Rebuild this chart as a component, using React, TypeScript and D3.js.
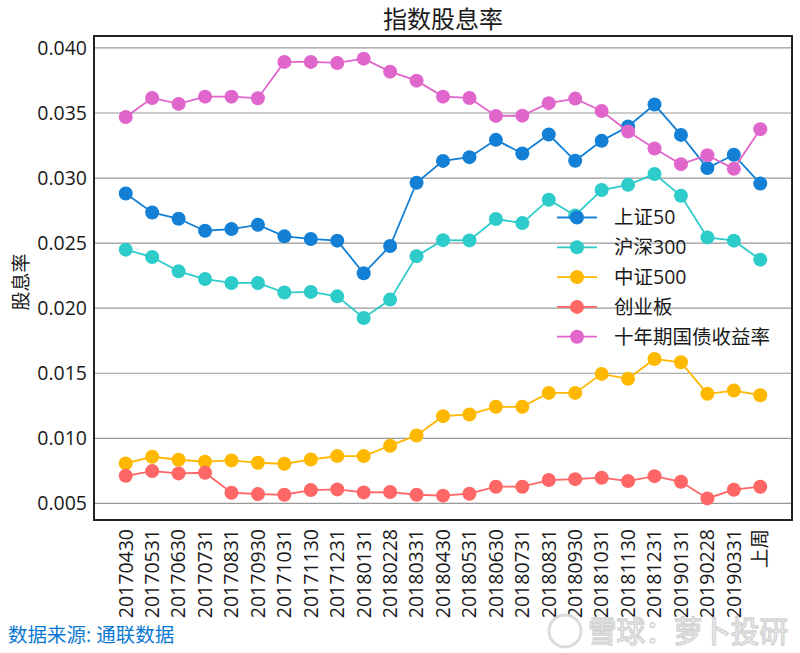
import React from "react";
import * as d3 from "d3";

const categories = [
  "20170430","20170531","20170630","20170731","20170831","20170930","20171031","20171130","20171231",
  "20180131","20180228","20180331","20180430","20180531","20180630","20180731","20180831","20180930",
  "20181031","20181130","20181231","20190131","20190228","20190331","上周",
];

const sz50 = [0.02882,0.02736,0.02687,0.02595,0.02608,0.02641,0.02552,0.02532,0.02519,0.02268,0.02478,0.02964,0.03132,0.03161,0.03294,0.03189,0.03335,0.03133,0.03286,0.03396,0.03565,0.03332,0.03077,0.03179,0.02958];
const hs300 = [0.0245,0.02393,0.02283,0.02224,0.02194,0.02194,0.0212,0.02125,0.02091,0.01925,0.02066,0.024,0.02523,0.02521,0.02685,0.02654,0.02834,0.02713,0.02908,0.02948,0.03031,0.02864,0.02544,0.02519,0.02373];
const zz500 = [0.00807,0.00858,0.00835,0.0082,0.0083,0.00812,0.00804,0.00837,0.00863,0.00863,0.00943,0.01022,0.0117,0.01183,0.01242,0.01242,0.01349,0.01349,0.01495,0.01457,0.0161,0.01584,0.01342,0.01367,0.01331];
const cyb = [0.00712,0.00748,0.0073,0.00735,0.00582,0.00571,0.00566,0.00602,0.00607,0.00584,0.00587,0.00566,0.00559,0.00574,0.00628,0.00628,0.00679,0.00686,0.00697,0.00671,0.00709,0.00666,0.00538,0.00605,0.00628];
const bond10y = [0.0347,0.03616,0.0357,0.03626,0.03626,0.03614,0.03893,0.03893,0.03885,0.03918,0.03818,0.03749,0.03626,0.03616,0.03478,0.0348,0.03576,0.03611,0.03516,0.03358,0.03227,0.03107,0.03176,0.03071,0.03376];

const seriesNames = ["上证50", "沪深300", "中证500", "创业板", "十年期国债收益率"];
const seriesValues = [sz50, hs300, zz500, cyb, bond10y];
const seriesColors = ["#1380d6", "#2ecbcb", "#ffb800", "#ff6666", "#e066cc"];
const yTicks = [0.005, 0.01, 0.015, 0.02, 0.025, 0.03, 0.035, 0.04];

const W = 800, H = 653;
const M = { left: 94, right: 792, top: 36, bottom: 520 };
const FONT = "'Open Sans', 'Noto Sans CJK SC', sans-serif";
const CJK = "'Noto Sans CJK SC', sans-serif";

export default function App() {
  const n = categories.length;
  const pad = (n - 1) * 0.05;
  const x = d3.scaleLinear().domain([-pad, n - 1 + pad]).range([M.left, M.right]);
  const y = d3.scaleLinear().domain([0.00372, 0.04092]).range([M.bottom, M.top]);
  const line = d3.line<number>().x((_, i) => x(i)).y((v) => y(v));

  return (
    <svg width={W} height={H} style={{ position: "absolute", left: 0, top: 0 }}>
      <rect width={W} height={H} fill="#fff" />
      {yTicks.map((t) => (
        <g key={t}>
          <line x1={M.left} x2={M.right} y1={y(t)} y2={y(t)} stroke="#999" strokeWidth={1.2} />
          <text x={M.left - 7} y={y(t)} dy="0.35em" textAnchor="end" fontSize={19.5} fontFamily={FONT} fill="#1a1a1a">
            {d3.format(".3f")(t)}
          </text>
        </g>
      ))}
      {seriesValues.map((vals, si) => (
        <g key={si}>
          <path d={line(vals) || ""} fill="none" stroke={seriesColors[si]} strokeWidth={1.8} />
          {vals.map((v, i) => (
            <circle key={i} cx={x(i)} cy={y(v)} r={7} fill={seriesColors[si]} />
          ))}
        </g>
      ))}
      <rect x={M.left} y={M.top} width={M.right - M.left} height={M.bottom - M.top} fill="none" stroke="#222" strokeWidth={2} />
      {categories.map((c, i) => (
        <text key={c} transform={`translate(${x(i)},${M.bottom + 9}) rotate(-90)`} textAnchor="end" dy="0.35em"
          fontSize={19.5} fontFamily={FONT} fill="#1a1a1a">
          {c}
        </text>
      ))}
      <text x={(M.left + M.right) / 2} y={20} dy="0.35em" textAnchor="middle" fontSize={24} fontFamily={CJK} fill="#1a1a1a">
        指数股息率
      </text>
      <text transform={`translate(21,${(M.top + M.bottom) / 2 + 4}) rotate(-90)`} textAnchor="middle" dy="0.35em"
        fontSize={19} fontFamily={CJK} fill="#1a1a1a">
        股息率
      </text>
      {seriesNames.map((name, i) => {
        const ly = 217.5 + i * 29.8;
        return (
          <g key={name}>
            <line x1={557} x2={597} y1={ly} y2={ly} stroke={seriesColors[i]} strokeWidth={1.8} />
            <circle cx={577} cy={ly} r={7} fill={seriesColors[i]} />
            <text x={614} y={ly} dy="0.35em" fontSize={19.5} fontFamily={FONT} fill="#1a1a1a">{name}</text>
          </g>
        );
      })}
      <text x={8} y={635} dy="0.35em" fontSize={19.5} fontFamily={FONT} fill="#0a78d2">数据来源: 通联数据</text>
      <g opacity={0.9}>
        <circle cx={565} cy={631} r={16} fill="none" stroke="#d8d8d8" strokeWidth={3} />
        <text x={588} y={631} dy="0.35em" fontSize={30} fontFamily={CJK} fill="#fff" stroke="#cfcfcf" strokeWidth={1.5}
          textLength={200} lengthAdjust="spacingAndGlyphs">雪球：萝卜投研</text>
      </g>
    </svg>
  );
}
